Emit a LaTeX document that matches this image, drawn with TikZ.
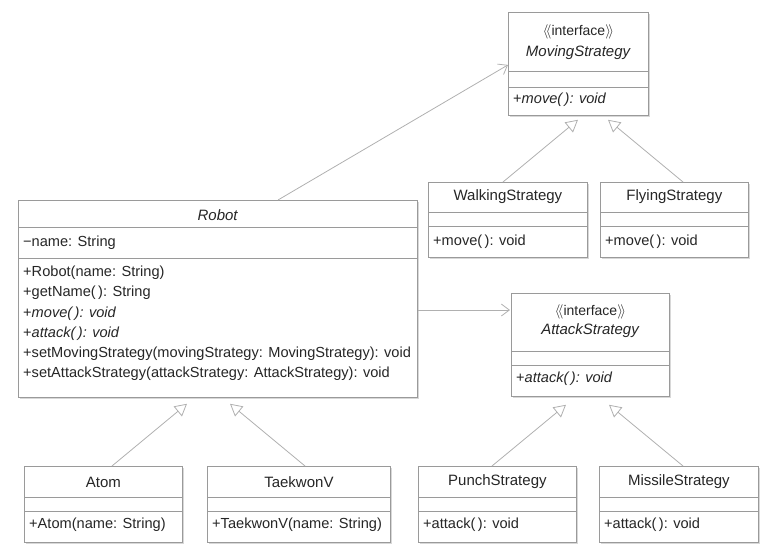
\documentclass[tikz,border=0pt]{standalone}
\usepackage{fontspec}
\setmainfont{Liberation Sans}
\usetikzlibrary{arrows.meta,calc,shadows}

\definecolor{ink}{HTML}{262626}
\definecolor{frame}{HTML}{9A9A9A}
\definecolor{wire}{HTML}{B0B0B0}
\definecolor{shade}{HTML}{D8D8D8}

\tikzset{
  classbox/.style={draw=frame, line width=0.8pt, fill=white, inner sep=0pt,
    anchor=north west,
    general shadow={shadow xshift=2pt, shadow yshift=-2pt, fill=shade}},
  divider/.style={draw=frame, line width=0.8pt},
  title/.style={text=ink, inner sep=0pt, font=\fontsize{15}{18}\selectfont},
  member/.style={text=ink, inner sep=0pt, anchor=west, font=\fontsize{14.6}{18}\selectfont},
  stereo/.style={text=ink, inner sep=0pt, font=\fontsize{14}{18}\selectfont},
  assoc/.style={draw=wire, line width=0.8pt, -{Straight Barb[length=8pt,width=12pt]}},
  inherit/.style={draw=wire, line width=0.8pt, -{Triangle[open,length=12pt,width=13pt,fill=white]}},
}

\newcommand{\guil}[1]{$\langle\!\langle$#1$\rangle\!\rangle$}

\begin{document}
\begin{tikzpicture}[x=1pt,y=-1pt]
\useasboundingbox (0,0) rectangle (769,549);

% ---------- class frames ----------
\node[classbox, minimum width=140, minimum height=103] (moving) at (508,12) {};
\node[classbox, minimum width=399, minimum height=197] (robot) at (18,200) {};
\node[classbox, minimum width=159, minimum height=75] (walking) at (428,182) {};
\node[classbox, minimum width=148, minimum height=75] (flying) at (600,182) {};
\node[classbox, minimum width=158, minimum height=103] (attack) at (511,293) {};
\node[classbox, minimum width=158, minimum height=76] (atom) at (24,466) {};
\node[classbox, minimum width=183, minimum height=76] (taekwon) at (207,466) {};
\node[classbox, minimum width=158, minimum height=76] (punch) at (418,466) {};
\node[classbox, minimum width=159, minimum height=76] (missile) at (599,466) {};

% ---------- compartment dividers ----------
\foreach \cls/\a/\b in {moving/59/75, robot/27/58, walking/30/44, flying/30/44,
                        attack/58/72, atom/31/45, taekwon/31/45, punch/31/45, missile/31/45}{
  \draw[divider] ($(\cls.north west)+(0,\a)$) -- ($(\cls.north east)+(0,\a)$);
  \draw[divider] ($(\cls.north west)+(0,\b)$) -- ($(\cls.north east)+(0,\b)$);
}

% ---------- MovingStrategy ----------
\node[stereo] (moving-s) at ($(moving.north)+(0,20)$) {\guil{interface}};
\node[title] (moving-t) at ($(moving.north)+(0,41)$) {\textit{MovingStrategy}};
\node[member] (moving-m) at ($(moving.north west)+(5,88)$) {+\textit{move(\,): void}};

% ---------- Robot ----------
\node[title] (robot-t) at ($(robot.north)+(0,15)$) {\textit{Robot}};
\node[member] (robot-a) at ($(robot.north west)+(5,43)$) {−name: String};
\node[member] (robot-m1) at ($(robot.north west)+(5,73)$) {+Robot(name: String)};
\node[member] (robot-m2) at ($(robot.north west)+(5,93.2)$) {+getName(\,): String};
\node[member] (robot-m3) at ($(robot.north west)+(5,113.4)$) {+\textit{move(\,): void}};
\node[member] (robot-m4) at ($(robot.north west)+(5,133.6)$) {+\textit{attack(\,): void}};
\node[member] (robot-m5) at ($(robot.north west)+(5,153.8)$) {+setMovingStrategy(movingStrategy: MovingStrategy): void};
\node[member] (robot-m6) at ($(robot.north west)+(5,174)$) {+setAttackStrategy(attackStrategy: AttackStrategy): void};

% ---------- moving strategies ----------
\node[title] (walking-t) at ($(walking.north)+(0,15)$) {WalkingStrategy};
\node[member] (walking-m) at ($(walking.north west)+(5,60)$) {+move(\,): void};
\node[title] (flying-t) at ($(flying.north)+(0,15)$) {FlyingStrategy};
\node[member] (flying-m) at ($(flying.north west)+(5,60)$) {+move(\,): void};

% ---------- AttackStrategy ----------
\node[stereo] (attack-s) at ($(attack.north)+(0,19)$) {\guil{interface}};
\node[title] (attack-t) at ($(attack.north)+(0,38)$) {\textit{AttackStrategy}};
\node[member] (attack-m) at ($(attack.north west)+(5,86)$) {+\textit{attack(\,): void}};

% ---------- subclasses ----------
\node[title] (atom-t) at ($(atom.north)+(0,16)$) {Atom};
\node[member] (atom-m) at ($(atom.north west)+(5,59)$) {+Atom(name: String)};
\node[title] (taekwon-t) at ($(taekwon.north)+(0,16)$) {TaekwonV};
\node[member] (taekwon-m) at ($(taekwon.north west)+(5,59)$) {+TaekwonV(name: String)};
\node[title] (punch-t) at ($(punch.north)+(0,16)$) {PunchStrategy};
\node[member] (punch-m) at ($(punch.north west)+(5,59)$) {+attack(\,): void};
\node[title] (missile-t) at ($(missile.north)+(0,16)$) {MissileStrategy};
\node[member] (missile-m) at ($(missile.north west)+(5,59)$) {+attack(\,): void};

% ---------- associations ----------
\draw[assoc] ($(robot.north west)+(260,0)$) -- ($(moving.west)+(0,1)$);
\draw[assoc] ($(robot.north east)+(0,110)$) -- ($(attack.north west)+(-1,17)$);

% ---------- realisation / generalisation ----------
\draw[inherit] ($(walking.north west)+(75,0)$) -- ($(moving.south west)+(70,4)$);
\draw[inherit] ($(flying.north west)+(83,0)$) -- ($(moving.south west)+(100,4)$);
\draw[inherit] ($(atom.north west)+(88,0)$) -- ($(robot.south west)+(169,6)$);
\draw[inherit] ($(taekwon.north west)+(98,0)$) -- ($(robot.south west)+(212,6)$);
\draw[inherit] ($(punch.north west)+(74,0)$) -- ($(attack.south west)+(55,8)$);
\draw[inherit] ($(missile.north west)+(84,0)$) -- ($(attack.south west)+(98,8)$);
\end{tikzpicture}
\end{document}
